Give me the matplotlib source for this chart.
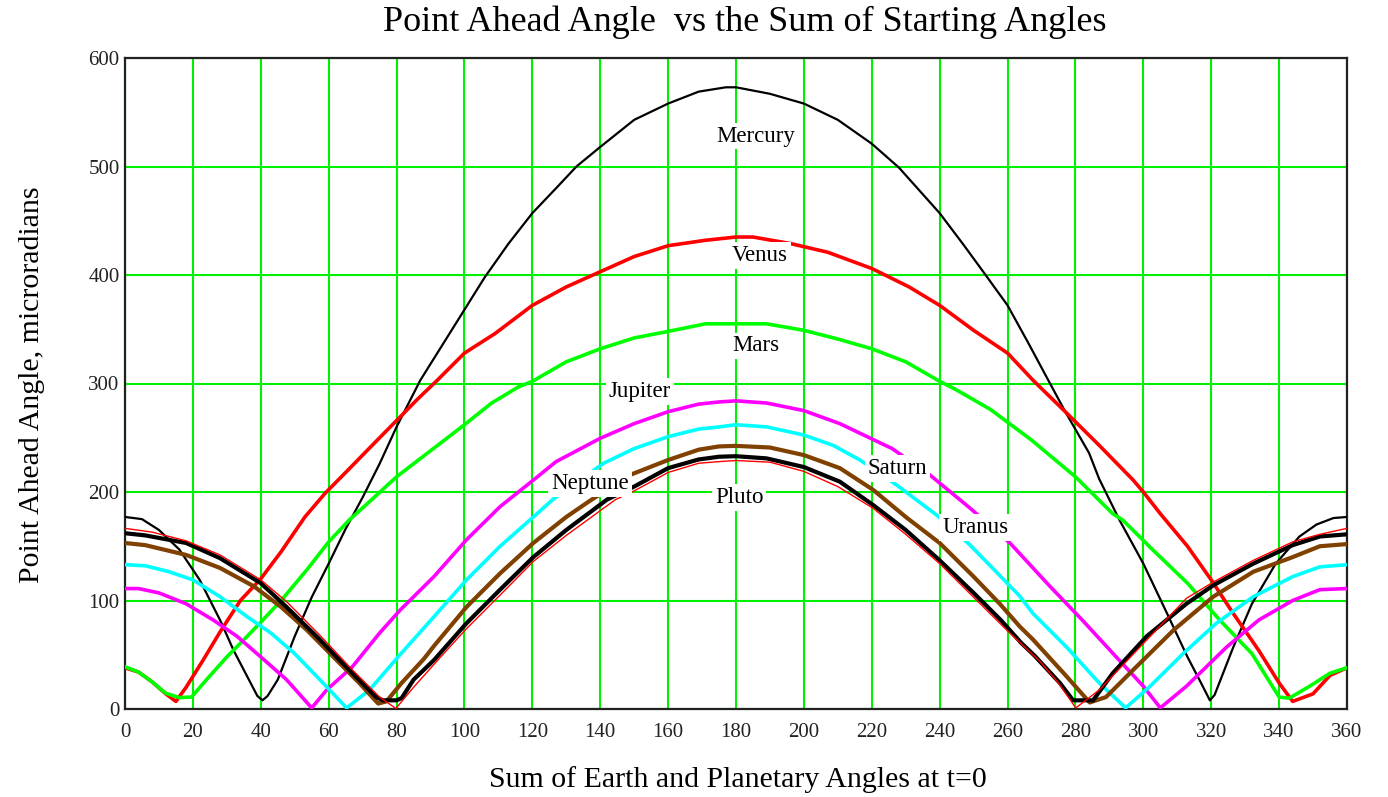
import matplotlib
matplotlib.use("Agg")
import matplotlib.pyplot as plt

# values (x = degrees, y = microradians)
mercury_x = [0, 5, 10, 16, 22, 28, 32, 36, 39, 40.5, 42, 45, 50, 55, 60, 65, 70, 75, 80, 87, 93,
             100, 106, 113, 120, 127, 133, 140, 150, 160, 169, 177, 180, 190, 200, 210, 220, 228,
             240, 247, 254, 260, 266, 272, 277, 284, 287, 293, 300, 307, 313, 317, 319.6, 321,
             326.5, 332, 339, 346, 351, 356, 360]
mercury_y = [177, 175, 165, 147, 119, 82, 54, 30, 12, 8, 12, 27, 67, 103, 134, 166, 195, 226, 260,
             303, 333, 368, 398, 429, 457, 480, 500, 518, 543, 558, 569, 573, 573, 567, 558, 543,
             521, 499, 457, 428, 398, 372, 338, 303, 274, 236, 212, 174, 134, 88, 48, 24, 8, 13,
             57, 97, 134, 159, 170, 176, 177]

venus_x = [0, 4, 8, 12, 15, 18, 23, 28, 34, 40, 46, 53, 59, 65, 70, 75, 81, 86, 92, 100, 109,
           120, 130, 140, 150, 160, 171, 180, 185, 196, 207, 220, 231, 240, 250, 260, 267.5,
           277, 287, 297, 300, 305, 313, 320, 326.5, 334, 340, 344, 350, 355, 360]
venus_y = [38, 34, 25, 14, 7, 20, 45, 71, 100, 120, 145, 177, 199, 218, 234, 250, 269, 285, 303,
           328, 346, 372, 389, 403, 417, 427, 432, 435, 435, 429, 421, 406, 389, 372, 349, 328,
           303, 274, 243, 211, 200, 180, 150, 119, 88, 54, 24, 7, 14, 31, 38]

mars_x = [0, 4, 8, 12, 16, 19.6, 24, 30, 36, 40, 46, 53.5, 60, 66, 72, 80, 90, 100, 108, 116,
          120, 130, 140, 150, 160, 171, 180, 189, 200, 210, 220, 230, 240, 245, 255, 267, 280,
          291, 294, 303, 313, 322.5, 332, 340, 343, 349, 355, 360]
mars_y = [39, 34, 25, 14.5, 10.5, 11, 27, 48, 67, 80, 100, 128, 154, 174, 191, 214, 238, 262,
          282, 297, 302, 320, 332, 342, 348, 355, 355, 355, 349, 341, 332, 320, 302, 294, 276,
          248, 214, 180, 174, 146, 116, 82, 51, 11, 10, 21, 33, 38]

jupiter_x = [0, 4, 10, 18, 26, 33, 40, 47.6, 55, 59.4, 67, 75, 81, 91, 100.6, 110.5, 120.3, 127,
             140, 150, 160, 169, 175, 180, 189, 200, 210.6, 226, 237, 249, 260.7, 272.5, 282,
             292, 300, 305, 312.7, 324.5, 334, 344, 352, 360]
jupiter_y = [111, 111, 107, 97, 82, 67, 48, 27, 1, 17.5, 39, 70, 91, 122, 156, 186.5, 211, 228,
             249.5, 263, 274, 281, 283, 284, 282, 275, 263, 240, 216, 185, 153, 113, 82, 48, 21,
             1, 21, 57, 82, 100, 110, 111]

saturn_x = [0, 6, 13, 20, 28, 36, 43, 50, 57.4, 65.3, 72, 81, 91, 100.6, 110.5, 120.3, 126, 141,
            150, 160, 169, 175, 180, 189, 200, 208.6, 216.5, 227.3, 239, 249, 257.7, 263.6,
            267.5, 277.4, 287, 294.8, 302, 311.7, 321.5, 332.4, 344, 352, 360]
saturn_y = [133, 132, 126.5, 119, 103.5, 85, 70, 51, 27, 1, 17.5, 50, 85, 119, 150, 177, 193,
            226.5, 240, 251, 258, 260, 262, 260, 252.5, 243, 229.5, 206.5, 179, 151, 123, 104,
            88, 57, 24, 1, 21, 51, 79, 103.5, 122, 131, 133]

uranus_x = [0, 6, 18, 28, 38, 46, 53.5, 61.4, 69, 74.6, 77, 81.5, 88, 91, 100.6, 110.5, 120.3,
            130, 137, 149, 160, 169, 175, 180, 190, 200, 210.6, 220.4, 230, 240, 250, 257.7,
            263.6, 267.5, 277.4, 284.2, 289, 297, 309, 320.6, 332.4, 344, 352, 360]
uranus_y = [153, 151, 142, 130, 113, 94, 73, 48, 24, 5, 7, 24, 46, 58, 94, 125, 153, 177, 192,
            216, 229.5, 239, 242, 242.5, 241, 234, 222, 202, 177, 153, 122, 97, 76, 64, 30, 6,
            11, 36, 73, 103.5, 126.5, 140, 150, 152]

neptune_x = [0, 6, 18, 28, 40, 47.6, 57.4, 67, 74, 76, 80, 81.5, 85, 91, 100.6, 110.5, 120.3,
             130, 142, 150, 160, 169, 175, 180, 189, 200, 210.6, 220.4, 230, 240, 250, 258, 264,
             268, 275.4, 279.3, 285.2, 291, 301, 312.7, 320.6, 332.4, 344, 352, 360]
neptune_y = [162, 160, 153, 139, 116, 94, 64, 33, 11, 8, 8, 10, 27, 45, 79, 110, 140, 165, 193,
             205, 222, 230, 232.5, 233, 231, 223, 209.5, 188, 165, 137, 107, 82, 61, 49, 24, 8, 8,
             33, 67, 97, 114, 134, 151, 159, 161]

pluto_x = [0, 8, 18, 28, 40, 47.6, 57.4, 67, 75, 79.8, 85, 93, 100.6, 110.5, 120.3, 130, 144.5,
           150, 160, 169, 175, 180, 190, 200, 210, 220.4, 230, 240, 250, 260, 269.5, 275, 280.1,
           287, 299, 312.7, 320.6, 332.4, 344, 352, 360]
pluto_y = [166.5, 163, 155, 142, 119, 99, 68, 36, 11, 0.5, 20, 48, 74, 105, 136, 160, 193, 201,
           218, 226.5, 228, 229, 227.5, 219, 205, 185, 161, 134, 103, 72, 44, 24, 1, 17.5, 57,
           102, 117, 137, 154, 161, 166.5]

planet_names = ["Mercury", "Venus", "Mars", "Jupiter", "Neptune", "Saturn", "Pluto", "Uranus"]
label_x = [185.7, 187, 185.8, 151.7, 137, 227.5, 181, 250.5]
label_y = [528, 418, 334.7, 292.6, 208, 221.7, 195, 167.3]

x_ticks = list(range(0, 361, 20))
y_ticks = list(range(0, 601, 100))

SERIF = ["Liberation Serif", "DejaVu Serif"]
plt.rcParams["font.family"] = SERIF

fig = plt.figure(figsize=(13.88, 7.97), dpi=100)
ax = fig.add_axes([125 / 1388, 1 - 709 / 797, 1222 / 1388, 651 / 797])

series = [
    (mercury_x, mercury_y, "#000000", 1.6),
    (venus_x, venus_y, "#ff0000", 2.6),
    (mars_x, mars_y, "#00ff00", 2.6),
    (jupiter_x, jupiter_y, "#ff00ff", 2.6),
    (saturn_x, saturn_y, "#00ffff", 2.6),
    (uranus_x, uranus_y, "#804000", 3.0),
    (neptune_x, neptune_y, "#000000", 3.0),
    (pluto_x, pluto_y, "#ff0000", 1.0),
]
for xs, ys, color, lw in series:
    ax.plot(xs, ys, color=color, linewidth=lw, zorder=3, solid_joinstyle="round")

for name, lx, ly in zip(planet_names, label_x, label_y):
    ax.text(lx, ly, name, fontsize=16.5, ha="center", va="center", zorder=10,
            bbox=dict(boxstyle="square,pad=0.12", facecolor="white", edgecolor="none"))

ax.set_xlim(0, 360)
ax.set_ylim(0, 600)
ax.set_xticks(x_ticks)
ax.set_yticks(y_ticks)
ax.grid(True, color="#00f000", linewidth=1.5, zorder=1)
ax.set_axisbelow(True)
ax.tick_params(length=0, labelsize=15, colors="#222222")
ax.tick_params(axis="x", pad=10)
ax.tick_params(axis="y", pad=4)
for sp in ax.spines.values():
    sp.set_color("#222222")
    sp.set_linewidth(1.6)

fig.text(745 / 1388, 1 - 22 / 797, "Point Ahead Angle  vs the Sum of Starting Angles",
         fontsize=26, ha="center", va="center")
fig.text(738 / 1388, 1 - 780 / 797, "Sum of Earth and Planetary Angles at t=0",
         fontsize=21.5, ha="center", va="center")
fig.text(32 / 1388, 1 - 385 / 797, "Point Ahead Angle, microradians",
         fontsize=21.5, ha="center", va="center", rotation=90)

fig.savefig("out.png", dpi=100)
